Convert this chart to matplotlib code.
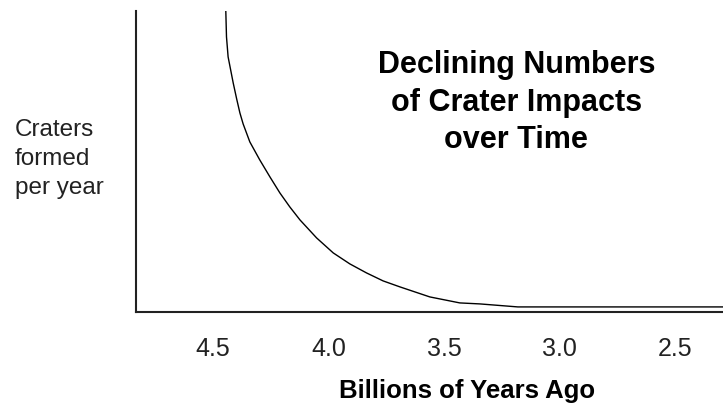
import matplotlib
matplotlib.use("Agg")
import matplotlib.pyplot as plt

# curve (billions of years ago, relative crater rate)
age = [4.444, 4.441, 4.434, 4.423, 4.412, 4.397, 4.383, 4.369, 4.340,
       4.297, 4.253, 4.210, 4.167, 4.123, 4.051, 3.979, 3.907, 3.835,
       3.763, 3.690, 3.561, 3.431, 3.344, 3.180, 2.292]
rate = [301, 275, 255, 242, 229, 213, 199, 188, 170,
        152, 135, 119, 105, 92, 74, 59, 48, 39,
        31, 25, 15, 9, 8, 5, 5]

tick_vals = [4.5, 4.0, 3.5, 3.0, 2.5]
tick_labels = ["4.5", "4.0", "3.5", "3.0", "2.5"]

plt.rcParams["font.family"] = ["Liberation Sans", "DejaVu Sans"]

fig = plt.figure(figsize=(7.23, 4.03), dpi=100)
ax = fig.add_axes([0.188, 0.226, 0.812, 0.747])

ax.plot(age, rate, color="black", lw=1.0)

ax.set_xlim(4.833, 2.292)
ax.set_ylim(0, 301)
ax.set_xticks(tick_vals)
ax.set_xticklabels(tick_labels)
ax.set_yticks([])
ax.tick_params(axis="x", length=0, pad=18, labelsize=18, colors="#222222")

for s in ["top", "right"]:
    ax.spines[s].set_visible(False)
for s in ["left", "bottom"]:
    ax.spines[s].set_linewidth(1.5)
    ax.spines[s].set_color("#222222")

ax.set_xlabel("Billions of Years Ago", fontsize=18.5, fontweight="bold")
ax.xaxis.set_label_coords(0.564, -0.222)
ax.xaxis.label.set_va("top")

fig.text(15 / 723, 1 - 119 / 403, "Craters\nformed\nper year",
         fontsize=17.5, va="top", ha="left", linespacing=1.42, color="#222222")

ax.text(0.648, 0.869, "Declining Numbers\nof Crater Impacts\nover Time",
        transform=ax.transAxes, fontsize=22, fontweight="bold",
        ha="center", va="top", multialignment="center", linespacing=1.32)

fig.savefig("out.png", dpi=100)
